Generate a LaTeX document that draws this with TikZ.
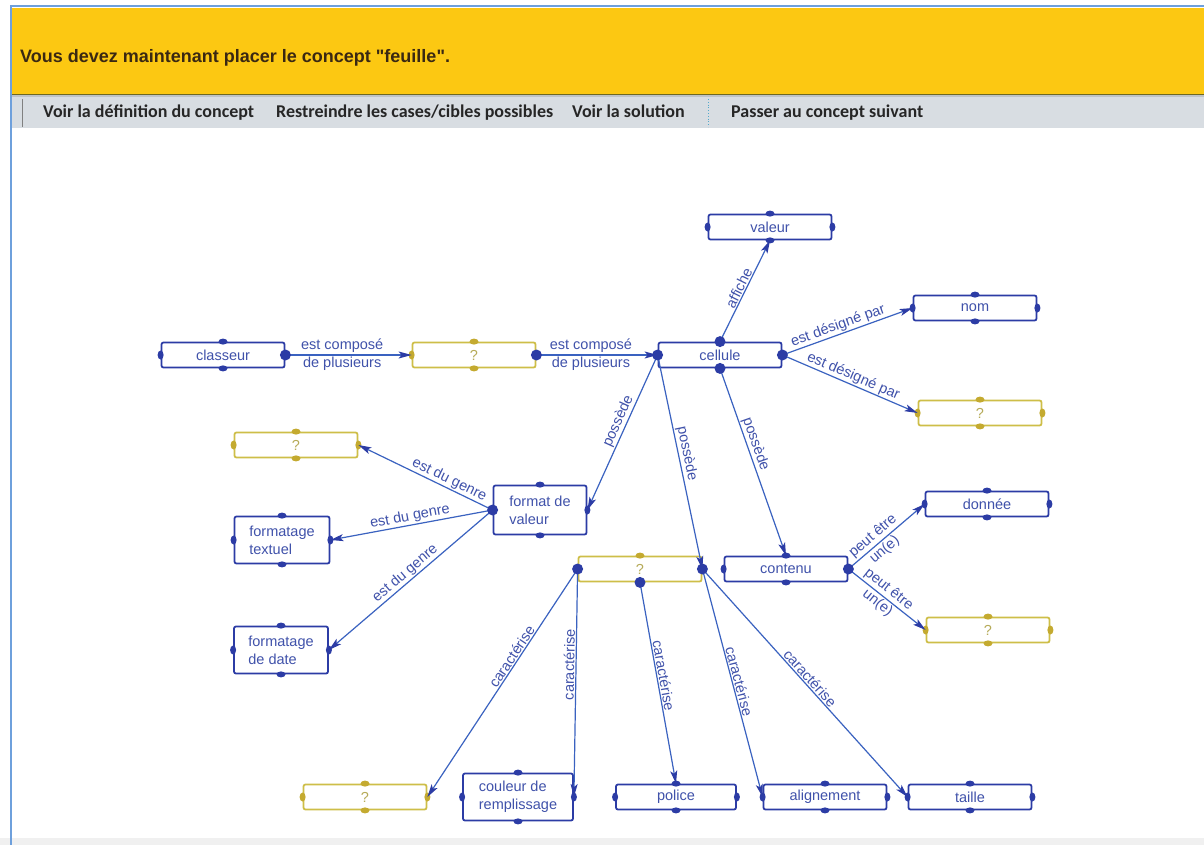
\documentclass[tikz,border=0pt]{standalone}
\usepackage{fontspec}
\setmainfont{Liberation Sans}
\newfontfamily\barfont{Carlito}
\usepackage{tikz}
\usetikzlibrary{arrows.meta,positioning}
\definecolor{conceptBlue}{RGB}{44,60,165}
\definecolor{textBlue}{RGB}{64,82,170}
\definecolor{edgeBlue}{RGB}{58,98,192}
\definecolor{holeYellow}{RGB}{206,190,72}
\definecolor{handleYellow}{RGB}{196,170,48}
\definecolor{barYellow}{RGB}{252,200,18}
\definecolor{barGray}{RGB}{216,221,226}
\definecolor{frameBlue}{RGB}{110,160,220}
\tikzstyle{concept}=[draw=conceptBlue, fill=white, line width=1.8pt, rounded corners=2pt, minimum width=123pt, minimum height=25pt, inner sep=2pt, text=textBlue, font=\fontsize{14.5}{18}\selectfont]
\tikzstyle{conceptTwo}=[concept, minimum height=47pt, align=left, inner sep=6pt]
\tikzstyle{hole}=[concept, draw=holeYellow, text=holeYellow!70!gray]
\tikzstyle{edge}=[draw=edgeBlue, line width=1.2pt, -{Stealth[length=13pt, width=7pt, inset=3pt, color=conceptBlue]}]
\tikzstyle{lab}=[font=\fontsize{14.5}{18}\selectfont, text=textBlue, sloped, above, inner sep=1pt]
\tikzstyle{labTwo}=[font=\fontsize{14.5}{18}\selectfont, text=textBlue, align=center, inner sep=0pt]
\tikzstyle{barItem}=[anchor=base west, inner sep=0pt, font=\barfont\fontsize{18}{20}\selectfont\bfseries, text=black!85]
\begin{document}
\begin{tikzpicture}[x=1pt, y=-1pt]
      \useasboundingbox (0,0) rectangle (1204,845);
      % window
      \fill[white] (0,0) rectangle (1204,845);
      \fill[barYellow] (12,8) rectangle (1204,94);
      \fill[black!12!barGray] (12,94) rectangle (1204,97);
      \draw[olive!70!black, line width=1pt] (12,95) -- (1204,95);
      \fill[barGray] (12,97) rectangle (1204,128);
      \fill[black!6] (0,838) rectangle (1204,845);
      \draw[frameBlue, line width=1.5pt] (10,6) -- (1204,6);
      \draw[frameBlue, line width=2pt] (11,6) -- (11,845);
      \draw[gray, line width=0.6pt] (22,99) -- (22,127);
      \draw[cyan!60!gray, line width=0.8pt, dotted] (708,99) -- (708,127);
      \node (T) [anchor=base west, inner sep=0pt, text={rgb,255:red,58;green,40;blue,18}, font=\fontsize{18}{20}\selectfont\bfseries] at (20,63) {Vous devez maintenant placer le concept \textquotedbl feuille\textquotedbl.};
      \node (B1) [barItem] at (43,118) {Voir la définition du concept};
      \node (B2) [barItem] at (276,118) {Restreindre les cases/cibles possibles};
      \node (B3) [barItem] at (572,118) {Voir la solution};
      \node (B4) [barItem] at (731,118) {Passer au concept suivant};
      % concepts
      \node(0) [concept] at (223,355){classeur};
      \node(1) [hole] at (474,355){?};
      \node(2) [concept] at (720,355){cellule};
      \node(3) [concept] at (770,227){valeur};
      \node(4) [concept] at (975,308){nom};
      \node(5) [hole] at (980,413){?};
      \node(6) [hole] at (296,445){?};
      \node(7) [conceptTwo, minimum width=93pt, minimum height=49pt] at (540,510){format de\\valeur};
      \node(8) [conceptTwo, minimum width=95pt] at (282,540){formatage\\textuel};
      \node(9) [conceptTwo, minimum width=94pt] at (281,650){formatage\\de date};
      \node(10) [hole] at (640,569){?};
      \node(11) [concept] at (786,569){contenu};
      \node(12) [concept] at (987,504){donnée};
      \node(13) [hole] at (988,630){?};
      \node(14) [hole] at (365,797){?};
      \node(15) [conceptTwo, minimum width=110pt] at (518,797){couleur de\\remplissage};
      \node(16) [concept, minimum width=120pt] at (676,797){police};
      \node(17) [concept] at (825,797){alignement};
      \node(18) [concept] at (970,797){taille};
      \foreach \n in {0,2,3,4,7,8,9,11,12,15,16,17,18} {
        \fill[conceptBlue] (\n.north) ellipse (4.5pt and 3pt);
        \fill[conceptBlue] (\n.south) ellipse (4.5pt and 3pt);
        \fill[conceptBlue] (\n.west) ellipse (3pt and 4.5pt);
        \fill[conceptBlue] (\n.east) ellipse (3pt and 4.5pt);
      }
      \foreach \n in {1,5,6,10,13,14} {
        \fill[handleYellow] (\n.north) ellipse (4.5pt and 3pt);
        \fill[handleYellow] (\n.south) ellipse (4.5pt and 3pt);
        \fill[handleYellow] (\n.west) ellipse (3pt and 4.5pt);
        \fill[handleYellow] (\n.east) ellipse (3pt and 4.5pt);
      }
      % links
      \draw[edge] (0.east) -- node[labTwo, pos=0.45]{est composé\\de plusieurs} (1.west);
      \draw[edge] (1.east) -- node[labTwo, pos=0.45]{est composé\\de plusieurs} (2.west);
      \draw[edge] (2.north) -- node[lab]{affiche} (3.south);
      \draw[edge] (2.east) -- node[lab, pos=0.45]{est désigné par} (4.west);
      \draw[edge] (2.east) -- node[lab]{est désigné par} (5.west);
      \draw[edge] (2.west) -- node[lab, pos=0.45]{possède} (7.east);
      \draw[edge] (2.west) -- node[lab, pos=0.47]{possède} (10.east);
      \draw[edge] (2.south) -- node[lab, pos=0.42]{possède} (11.north);
      \draw[edge] (7.west) -- node[lab, pos=0.35]{est du genre} (6.east);
      \draw[edge] (7.west) -- node[lab]{est du genre} (8.east);
      \draw[edge] (7.west) -- node[lab]{est du genre} (9.east);
      \draw[edge] (11.east) -- node[labTwo, sloped, pos=0.4]{peut être\\un(e)} (12.west);
      \draw[edge] (11.east) -- node[labTwo, sloped, pos=0.45]{peut être\\un(e)} (13.west);
      \draw[edge] (10.west) -- node[lab, pos=0.4]{caractérise} (14.east);
      \draw[edge] (10.west) -- node[lab, pos=0.42]{caractérise} (15.east);
      \draw[edge] (10.south) -- node[lab, pos=0.47]{caractérise} (16.north);
      \draw[edge] (10.east) -- node[lab]{caractérise} (17.west);
      \draw[edge] (10.east) -- node[lab]{caractérise} (18.west);
      % link ends
      \foreach \p in {0.east,1.east,2.north,2.east,2.west,2.south,7.west,11.east,10.west,10.south,10.east} {
        \fill[conceptBlue] (\p) circle (5.5pt);
      }
    \end{tikzpicture}
\end{document}
